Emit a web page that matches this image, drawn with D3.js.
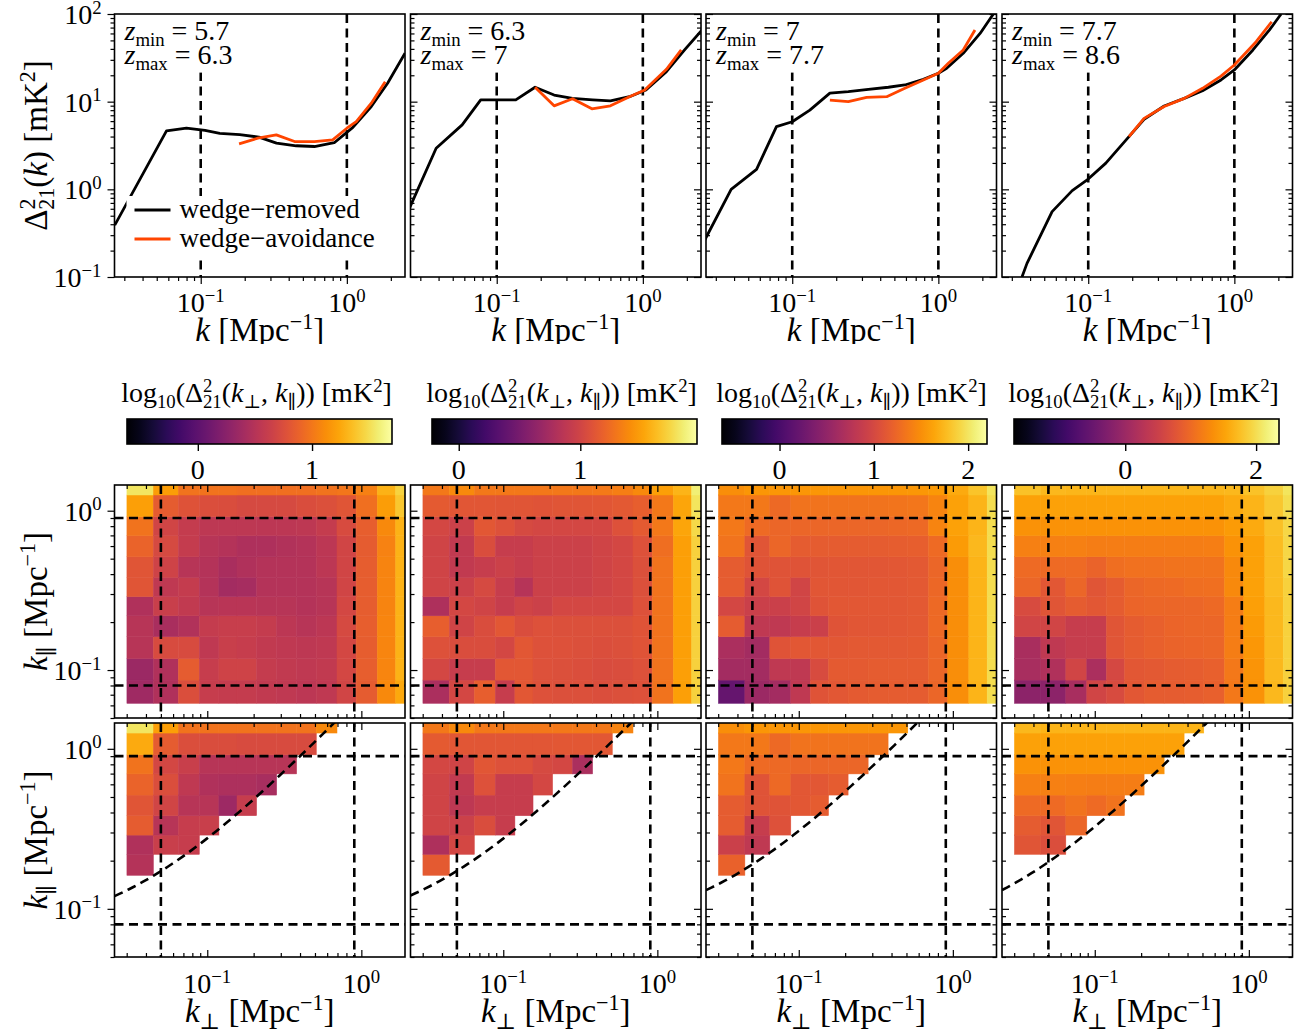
<!DOCTYPE html>
<html>
<head>
<meta charset="utf-8">
<script src="https://cdn.jsdelivr.net/npm/d3@7"></script>
<style>
  body { margin: 0; background: #fff; }
  svg { font-family: "Liberation Serif", "DejaVu Serif", serif; }
  text { white-space: pre; }
</style>
</head>
<body>
<svg id="chart" width="1303" height="1035"></svg>
<script>
// redshift bins, one per column
const zMin = ["5.7", "6.3", "7", "7.7"]
const zMax = ["6.3", "7", "7.7", "8.6"]

// spherically averaged power spectra, k in Mpc^-1, Delta^2 in mK^2
const removedK = [
  [0.0258, 0.0583, 0.0798, 0.107, 0.135, 0.185, 0.25, 0.33, 0.45, 0.6, 0.82, 1.1, 1.47, 1.9, 2.5],
  [0.0253, 0.0385, 0.058, 0.0777, 0.135, 0.183, 0.247, 0.33, 0.453, 0.6, 0.81, 1.05, 1.45, 1.93, 2.6],
  [0.0249, 0.0382, 0.057, 0.078, 0.1, 0.132, 0.181, 0.242, 0.332, 0.455, 0.59, 0.79, 1.0, 1.14, 1.48, 1.93, 2.38],
  [0.0352, 0.0381, 0.0566, 0.0777, 0.1, 0.132, 0.19, 0.241, 0.331, 0.454, 0.606, 0.81, 1.0, 1.34, 1.74, 2.09]
]
const removedP = [
  [0.39, 4.64, 4.98, 4.7, 4.36, 4.2, 3.94, 3.37, 3.14, 3.08, 3.4, 5.1, 8.8, 16.2, 35.6],
  [0.61, 2.94, 5.43, 10.5, 10.5, 14.6, 11.9, 10.9, 10.5, 10.2, 11.4, 13.6, 22, 38.9, 68.7],
  [0.254, 1.0, 1.69, 5.19, 5.9, 8.0, 12.5, 13.0, 13.8, 14.6, 15.5, 18, 21.1, 24, 35.6, 60, 100],
  [0.1, 0.143, 0.557, 0.966, 1.31, 1.99, 3.99, 6.3, 8.93, 10.9, 13.3, 17.7, 23, 38.9, 65.8, 100]
]
const avoidK = [
  [0.183, 0.246, 0.329, 0.439, 0.6, 0.8, 1.0, 1.16, 1.47, 1.83],
  [0.183, 0.247, 0.33, 0.448, 0.6, 0.81, 1.03, 1.45, 1.83],
  [0.181, 0.242, 0.323, 0.443, 0.59, 0.79, 1.0, 1.17, 1.48, 1.78],
  [0.19, 0.241, 0.331, 0.454, 0.606, 0.81, 1.0, 1.41, 1.8]
]
const avoidP = [
  [3.3, 3.83, 4.18, 3.51, 3.51, 3.66, 4.98, 5.93, 9.6, 16.9],
  [14.6, 8.96, 10.8, 8.28, 8.96, 11.4, 13.6, 23.4, 38.9],
  [10.4, 10.0, 11.2, 11.4, 14.2, 17.7, 21.1, 27.4, 38.9, 65.8],
  [3.99, 6.45, 8.8, 10.9, 14.2, 19.6, 26.2, 48.3, 81.6]
]

// cylindrical bins (edges), shared by all columns
const kPerpEdges = [0.0301, 0.0447, 0.0649, 0.0888, 0.119, 0.156, 0.209, 0.282, 0.38, 0.51, 0.695, 0.927, 1.27, 1.67, 2.3]
const kParEdges = [0.0618, 0.0865, 0.118, 0.162, 0.219, 0.289, 0.382, 0.514, 0.697, 0.917, 1.255, 1.69]

// log10 Delta^2(kperp, kpar), rows go from lowest kpar upwards
const cylRemoved1 = [
  [0.37, 0.47, 0.75, 0.61, 0.6, 0.6, 0.58, 0.56, 0.54, 0.56, 0.68, 0.84, 1.10, 1.25],
  [0.35, 0.47, 0.84, 0.61, 0.66, 0.66, 0.6, 0.58, 0.56, 0.58, 0.7, 0.86, 1.08, 1.3],
  [0.52, 0.73, 0.73, 0.56, 0.63, 0.61, 0.58, 0.56, 0.55, 0.56, 0.7, 0.85, 1.08, 1.3],
  [0.52, 0.44, 0.48, 0.6, 0.62, 0.62, 0.6, 0.54, 0.52, 0.54, 0.72, 0.86, 1.08, 1.3],
  [0.47, 0.63, 0.58, 0.52, 0.53, 0.53, 0.52, 0.52, 0.5, 0.52, 0.7, 0.85, 1.07, 1.3],
  [0.8, 0.56, 0.6, 0.5, 0.4, 0.42, 0.5, 0.5, 0.5, 0.52, 0.68, 0.85, 1.07, 1.3],
  [0.8, 0.66, 0.52, 0.5, 0.44, 0.47, 0.5, 0.5, 0.5, 0.54, 0.68, 0.85, 1.07, 1.3],
  [0.89, 0.72, 0.6, 0.52, 0.5, 0.46, 0.46, 0.48, 0.5, 0.54, 0.68, 0.84, 1.06, 1.3],
  [0.98, 0.68, 0.6, 0.55, 0.55, 0.55, 0.54, 0.54, 0.55, 0.6, 0.73, 0.86, 1.1, 1.3],
  [1.21, 0.84, 0.78, 0.75, 0.74, 0.72, 0.72, 0.72, 0.74, 0.76, 0.8, 0.96, 1.2, 1.4],
  [1.54, 1.2, 0.98, 0.98, 0.98, 0.96, 0.96, 0.96, 0.96, 0.98, 1.0, 1.05, 1.3, 1.45]
]
const cylRemoved2 = [
  [0.78, 1.02, 1.17, 0.93, 1.13, 1.09, 1.08, 1.08, 1.07, 1.08, 1.09, 1.28, 1.5, 1.72],
  [1.02, 0.93, 0.93, 1.13, 1.13, 1.09, 1.08, 1.07, 1.05, 1.06, 1.09, 1.28, 1.5, 1.72],
  [1.09, 1.06, 1.06, 1.02, 1.13, 1.09, 1.09, 1.08, 1.07, 1.08, 1.1, 1.28, 1.5, 1.72],
  [1.17, 0.99, 1.06, 1.13, 1.06, 1.09, 1.08, 1.08, 1.08, 1.08, 1.1, 1.28, 1.5, 1.72],
  [0.8, 1.02, 0.99, 0.93, 0.99, 0.97, 1.02, 1.02, 1.02, 1.02, 1.09, 1.28, 1.5, 1.72],
  [0.99, 0.97, 1.04, 0.93, 0.84, 0.97, 0.97, 0.97, 0.99, 1.02, 1.08, 1.28, 1.5, 1.72],
  [0.99, 0.91, 0.93, 0.97, 0.93, 0.97, 0.97, 0.97, 0.99, 1.02, 1.08, 1.28, 1.5, 1.72],
  [0.99, 0.91, 1.06, 0.93, 0.93, 0.97, 0.97, 0.97, 0.99, 1.02, 1.09, 1.26, 1.5, 1.72],
  [1.02, 0.97, 1.13, 1.09, 1.04, 1.02, 1.02, 1.02, 1.02, 1.09, 1.15, 1.31, 1.52, 1.75],
  [1.15, 1.12, 1.12, 1.11, 1.11, 1.1, 1.11, 1.11, 1.12, 1.14, 1.17, 1.31, 1.52, 1.8],
  [1.31, 1.39, 1.31, 1.31, 1.31, 1.31, 1.31, 1.31, 1.32, 1.34, 1.39, 1.5, 1.59, 1.85]
]
const cylRemoved3 = [
  [0.2, 0.57, 0.63, 0.82, 1.1, 1.13, 1.15, 1.16, 1.16, 1.16, 1.24, 1.5, 1.72, 1.95],
  [0.63, 0.63, 0.82, 0.82, 1.02, 1.15, 1.15, 1.16, 1.16, 1.16, 1.24, 1.5, 1.72, 1.95],
  [0.68, 0.63, 1.1, 1.13, 1.13, 1.13, 1.14, 1.14, 1.14, 1.15, 1.24, 1.5, 1.72, 1.95],
  [1.16, 0.82, 0.82, 0.88, 0.91, 1.1, 1.12, 1.12, 1.13, 1.14, 1.26, 1.5, 1.72, 1.95],
  [0.99, 0.91, 0.91, 0.96, 1.1, 1.13, 1.13, 1.13, 1.13, 1.14, 1.26, 1.5, 1.72, 1.95],
  [1.16, 0.99, 1.1, 0.96, 1.12, 1.12, 1.12, 1.13, 1.13, 1.14, 1.25, 1.5, 1.72, 1.95],
  [1.16, 1.1, 1.1, 1.1, 1.11, 1.12, 1.12, 1.12, 1.13, 1.14, 1.24, 1.5, 1.72, 1.95],
  [1.33, 1.11, 1.24, 1.16, 1.16, 1.16, 1.16, 1.16, 1.17, 1.18, 1.27, 1.58, 1.74, 1.95],
  [1.36, 1.27, 1.24, 1.24, 1.24, 1.24, 1.24, 1.24, 1.25, 1.26, 1.44, 1.61, 1.72, 1.95],
  [1.36, 1.36, 1.26, 1.33, 1.33, 1.33, 1.33, 1.33, 1.34, 1.35, 1.44, 1.61, 1.72, 1.95],
  [1.5, 1.55, 1.55, 1.55, 1.55, 1.55, 1.55, 1.55, 1.55, 1.56, 1.57, 1.67, 1.81, 2.0]
]
const cylRemoved4 = [
  [-0.16, -0.16, 0.12, 0.57, 0.65, 0.8, 0.85, 0.85, 0.87, 0.9, 1.14, 1.38, 1.7, 1.9],
  [0.12, 0.2, 0.57, 0.16, 0.61, 0.8, 0.83, 0.85, 0.87, 0.9, 1.14, 1.4, 1.7, 1.9],
  [0.14, 0.37, 0.45, 0.45, 0.77, 0.85, 0.9, 0.93, 0.95, 0.97, 1.18, 1.42, 1.7, 1.9],
  [0.57, 0.57, 0.45, 0.45, 0.77, 0.85, 0.9, 0.95, 0.97, 0.97, 1.18, 1.45, 1.7, 1.9],
  [0.65, 0.77, 0.85, 0.81, 0.85, 0.95, 0.97, 0.97, 0.97, 0.99, 1.18, 1.48, 1.7, 1.9],
  [0.97, 0.81, 0.97, 0.77, 0.85, 0.97, 1.0, 1.02, 1.04, 1.06, 1.3, 1.5, 1.72, 1.9],
  [1.01, 1.01, 1.01, 0.93, 1.05, 1.07, 1.08, 1.09, 1.09, 1.1, 1.3, 1.5, 1.72, 1.95],
  [1.22, 1.22, 1.22, 1.18, 1.18, 1.18, 1.18, 1.18, 1.19, 1.2, 1.38, 1.5, 1.72, 1.95],
  [1.38, 1.38, 1.38, 1.38, 1.38, 1.38, 1.38, 1.38, 1.38, 1.38, 1.45, 1.58, 1.75, 1.95],
  [1.5, 1.5, 1.5, 1.5, 1.5, 1.5, 1.5, 1.5, 1.5, 1.5, 1.58, 1.66, 1.82, 2.0],
  [1.78, 1.7, 1.68, 1.68, 1.68, 1.68, 1.68, 1.68, 1.68, 1.68, 1.7, 1.78, 1.9, 2.05]
]

// wedge-avoidance maps, only the cells kept above the wedge
const cylAvoid1 = [
  [], [], [],
  [0.5],
  [0.47, 0.63, 0.61],
  [0.84, 0.52, 0.61, 0.63],
  [0.8, 0.68, 0.52, 0.52, 0.36, 0.61],
  [0.89, 0.75, 0.56, 0.47, 0.45, 0.45, 0.43],
  [0.98, 0.7, 0.63, 0.52, 0.52, 0.52, 0.52, 0.52],
  [1.26, 0.84, 0.75, 0.74, 0.74, 0.73, 0.73, 0.73, 0.73],
  [1.54, 1.21, 0.98, 0.98, 0.98, 0.98, 0.98, 0.98, 0.98, 1.1]
]
const cylAvoid2 = [
  [], [], [],
  [1.15],
  [0.8, 1.02],
  [0.99, 0.97, 1.06, 0.93],
  [0.99, 0.88, 0.93, 0.93, 0.93],
  [0.99, 0.91, 1.09, 0.93, 0.93, 1.02],
  [1.02, 0.99, 1.12, 1.09, 1.09, 1.04, 1.02, 0.78],
  [1.15, 1.12, 1.12, 1.12, 1.12, 1.12, 1.13, 1.13, 1.13],
  [1.31, 1.39, 1.31, 1.31, 1.31, 1.31, 1.31, 1.31, 1.31, 1.37]
]
const cylAvoid3 = [
  [], [], [],
  [1.21],
  [0.91, 0.82],
  [1.16, 0.88, 1.07],
  [1.16, 1.1, 1.1, 1.13, 1.16],
  [1.33, 1.1, 1.26, 1.13, 1.13, 1.16],
  [1.36, 1.27, 1.26, 1.24, 1.24, 1.24, 1.24],
  [1.36, 1.36, 1.26, 1.33, 1.33, 1.33, 1.33, 1.33],
  [1.5, 1.55, 1.55, 1.55, 1.55, 1.55, 1.55, 1.55, 1.55]
]
const cylAvoid4 = [
  [], [], [], [],
  [0.77, 0.69],
  [0.85, 0.77, 0.97],
  [1.01, 1.01, 1.09, 1.01, 1.09],
  [1.22, 1.22, 1.2, 1.18, 1.18, 1.18],
  [1.38, 1.38, 1.38, 1.38, 1.38, 1.38, 1.38],
  [1.5, 1.5, 1.5, 1.5, 1.5, 1.5, 1.5, 1.5],
  [1.7, 1.66, 1.66, 1.66, 1.66, 1.66, 1.66, 1.66, 1.66]
]

// colour limits and colorbar ticks per column
const cbarDomain = [[-0.62, 1.70], [-0.22, 1.96], [-0.61, 2.20], [-1.70, 2.35]]
const cbarTicks = [[0, 1], [0, 1], [0, 1, 2], [0, 2]]

// wedge line kpar = slope * kperp + buffer
const wedgeSlope = [2.08, 2.05, 2.35, 2.6]
const wedgeBuffer = [0.068, 0.07, 0.072, 0.066]

// k cuts shown as dashed lines
const kCuts = [0.1, 1.0]
const kPerpCuts = [0.05, 0.9]
const kParCuts = [0.08, 0.9]

const cylRemoved = [cylRemoved1, cylRemoved2, cylRemoved3, cylRemoved4]
const cylAvoid = [cylAvoid1, cylAvoid2, cylAvoid3, cylAvoid4]

// ---- layout
const svg = d3.select("#chart")
const colX = [114.5, 410.5, 706, 1002]
const colW = 290.5
const specY = [14, 277]
const cylY = [485, 718]
const avoidY = [723, 957]
const cbarX = [127, 432, 722, 1014]
const cbarW = 265
const cbarY = [419, 444]
const ORANGE = "#ff4500"
const DASH = "9,5.5"
const tickFont = 28, labelFont = 33

// text with sub/superscripts; parts are strings or [str, flags]
// flags: i italic, ^ sup, _ sub, b step back over previous sup
function rich(sel, parts, size) {
  const t = sel.append("text").attr("font-size", size).attr("fill", "#000")
  let cur = 0
  parts.forEach(p => {
    const [str, st] = typeof p === "string" ? [p, ""] : p
    const lift = st.includes("^") ? -0.37 * size : st.includes("_") ? 0.2 * size : 0
    const ts = t.append("tspan").text(str)
      .attr("dy", lift - cur)
      .attr("font-size", lift ? size * 0.67 : size)
    if (st.includes("i")) ts.attr("font-style", "italic")
    if (st.includes("b")) ts.attr("dx", -0.34 * size)
    cur = lift
  })
  return t
}

const pow10 = v => {
  const e = Math.round(Math.log10(v))
  return ["10", [(e < 0 ? "\u2212" : "") + Math.abs(e), "^"]]
}

function splitTicks(scale) {
  const all = scale.ticks()
  const major = all.filter(v => Math.abs(Math.log10(v) - Math.round(Math.log10(v))) < 1e-6)
  const minor = all.filter(v => !major.includes(v))
  return [major, minor]
}

function ticks(g, axisGen, scale, tr, dir) {
  const [major, minor] = splitTicks(scale)
  ;[[major, 7], [minor, 4]].forEach(([vals, len]) => {
    const a = g.append("g").attr("transform", tr)
      .call(axisGen(scale).tickValues(vals).tickSize(len * dir).tickFormat(""))
    a.select(".domain").remove()
    a.selectAll(".tick line").attr("stroke", "#000").attr("stroke-width", 1.2)
  })
}

function frame(g, x0, y0, y1) {
  g.append("rect").attr("x", x0).attr("y", y0).attr("width", colW).attr("height", y1 - y0)
    .attr("fill", "none").attr("stroke", "#000").attr("stroke-width", 1.6)
}

const kLabel = (sub) => sub
  ? [["k", "i"], ["\u22a5", "_"], " [Mpc", ["\u22121", "^"], "]"]
  : [["k", "i"], " [Mpc", ["\u22121", "^"], "]"]

const defs = svg.append("defs")
let clipId = 0
function clip(x0, y0, w, h) {
  const id = "clip" + (clipId++)
  defs.append("clipPath").attr("id", id).append("rect")
    .attr("x", x0).attr("y", y0).attr("width", w).attr("height", h)
  return `url(#${id})`
}

// ---- top row: spherical power spectra
const specRow = svg.append("g").attr("clip-path", clip(0, 0, 1303, 344))

colX.forEach((x0, i) => {
  const x = d3.scaleLog().domain([0.0257, 2.5]).range([x0, x0 + colW])
  const y = d3.scaleLog().domain([0.1, 100]).range([specY[1], specY[0]])
  const g = specRow.append("g")
  const inner = g.append("g").attr("clip-path", clip(x0, specY[0], colW, specY[1] - specY[0]))

  inner.selectAll("line.cut").data(kCuts).join("line")
    .attr("x1", d => x(d)).attr("x2", d => x(d))
    .attr("y1", specY[0]).attr("y2", specY[1])
    .attr("stroke", "#000").attr("stroke-width", 2.6).attr("stroke-dasharray", DASH)

  const line = d3.line().x(d => x(d[0])).y(d => y(d[1]))
  inner.append("path").datum(d3.zip(removedK[i], removedP[i]))
    .attr("d", line).attr("fill", "none").attr("stroke", "#000")
    .attr("stroke-width", 2.8).attr("stroke-linejoin", "round")
  inner.append("path").datum(d3.zip(avoidK[i], avoidP[i]))
    .attr("d", line).attr("fill", "none").attr("stroke", ORANGE)
    .attr("stroke-width", 2.8).attr("stroke-linejoin", "round")

  // redshift box
  const box = inner.append("g")
  const bg = box.append("rect").attr("fill", "#fff")
  rich(box, [["z", "i"], ["min", "_"], " = " + zMin[i]], 28)
    .attr("x", x0 + 10).attr("y", specY[0] + 26)
  rich(box, [["z", "i"], ["max", "_"], " = " + zMax[i]], 28)
    .attr("x", x0 + 10).attr("y", specY[0] + 50)
  const bb = box.node().getBBox()
  bg.attr("x", bb.x - 3).attr("y", bb.y - 2).attr("width", bb.width + 6).attr("height", bb.height + 1)

  if (i === 0) {
    const leg = inner.append("g")
    leg.append("rect").attr("x", x0 + 12).attr("y", 196).attr("width", 246).attr("height", 62).attr("fill", "#fff")
    ;[["wedge\u2212removed", "#000", 210], ["wedge\u2212avoidance", ORANGE, 239]].forEach(([name, c, ly]) => {
      leg.append("line").attr("x1", x0 + 20).attr("x2", x0 + 56).attr("y1", ly).attr("y2", ly)
        .attr("stroke", c).attr("stroke-width", 2.8)
      leg.append("text").attr("x", x0 + 65).attr("y", ly + 8).attr("font-size", 27).text(name)
    })
  }

  frame(g, x0, specY[0], specY[1])
  ticks(g, d3.axisBottom, x, `translate(0,${specY[1]})`, 1)
  ticks(g, d3.axisLeft, y, `translate(${x0},0)`, i === 0 ? 1 : -1)
  if (i > 0) ticks(g, d3.axisRight, y, `translate(${x0 + colW},0)`, -1)

  splitTicks(x)[0].forEach(v => {
    rich(g, pow10(v), tickFont).attr("x", x(v)).attr("y", 312).attr("text-anchor", "middle")
  })
  if (i === 0) {
    splitTicks(y)[0].forEach(v => {
      rich(g, pow10(v), tickFont).attr("x", x0 - 13).attr("y", y(v) + 10).attr("text-anchor", "end")
    })
    const yl = g.append("g").attr("transform", `translate(47,${(specY[0] + specY[1]) / 2}) rotate(-90)`)
    rich(yl, ["\u0394", ["2", "^"], ["21", "_b"], "(", ["k", "i"], ") [mK", ["2", "^"], "]"], labelFont)
      .attr("text-anchor", "middle")
  }
  rich(g, kLabel(false), labelFont).attr("x", x0 + colW / 2).attr("y", 341).attr("text-anchor", "middle")
})

// ---- colorbars
colX.forEach((x0, i) => {
  const grad = defs.append("linearGradient").attr("id", "inferno" + i)
  d3.range(0, 1.0001, 0.05).forEach(t => {
    grad.append("stop").attr("offset", t).attr("stop-color", d3.interpolateInferno(t))
  })
  const cx = d3.scaleLinear().domain(cbarDomain[i]).range([cbarX[i], cbarX[i] + cbarW])
  const g = svg.append("g")
  g.append("rect").attr("x", cbarX[i]).attr("y", cbarY[0]).attr("width", cbarW)
    .attr("height", cbarY[1] - cbarY[0]).attr("fill", `url(#inferno${i})`)
    .attr("stroke", "#000").attr("stroke-width", 1.6)
  const a = g.append("g").attr("transform", `translate(0,${cbarY[1]})`)
    .call(d3.axisBottom(cx).tickValues(cbarTicks[i]).tickSize(7).tickFormat(""))
  a.select(".domain").remove()
  a.selectAll(".tick line").attr("stroke", "#000").attr("stroke-width", 1.4)
  cbarTicks[i].forEach(v => {
    g.append("text").attr("x", cx(v)).attr("y", 479).attr("font-size", tickFont)
      .attr("text-anchor", "middle").text(v)
  })
  rich(g, ["log", ["10", "_"], "(\u0394", ["2", "^"], ["21", "_b"], "(", ["k", "i"], ["\u22a5", "_"],
    ", ", ["k", "i"], ["\u2225", "_"], ")) [mK", ["2", "^"], "]"], 28)
    .attr("x", cbarX[i] + cbarW / 2 - 3).attr("y", 402).attr("text-anchor", "middle")
})

// ---- cylindrical maps
function cylPanel(i, grid, yr, avoid) {
  const x0 = colX[i]
  const x = d3.scaleLog().domain([0.025, 1.92]).range([x0, x0 + colW])
  const y = d3.scaleLog().domain([0.05, 1.45]).range([yr[1], yr[0]])
  const color = d3.scaleSequential(d3.interpolateInferno).domain(cbarDomain[i])
  const g = svg.append("g")
  const inner = g.append("g").attr("clip-path", clip(x0, yr[0], colW, yr[1] - yr[0]))

  const cells = []
  grid.forEach((row, r) => row.forEach((v, c) => cells.push({ r, c, v })))
  inner.selectAll("rect.cell").data(cells).join("rect")
    .attr("x", d => x(kPerpEdges[d.c]))
    .attr("width", d => x(kPerpEdges[d.c + 1]) - x(kPerpEdges[d.c]))
    .attr("y", d => y(kParEdges[d.r + 1]))
    .attr("height", d => y(kParEdges[d.r]) - y(kParEdges[d.r + 1]))
    .attr("fill", d => color(d.v)).attr("stroke", d => color(d.v)).attr("stroke-width", 0.5)

  const dashed = s => s.attr("stroke", "#000").attr("stroke-width", 2.6)
    .attr("stroke-dasharray", DASH).attr("fill", "none")
  kPerpCuts.forEach(k => dashed(inner.append("line")
    .attr("x1", x(k)).attr("x2", x(k)).attr("y1", yr[0]).attr("y2", yr[1])))
  kParCuts.forEach(k => dashed(inner.append("line")
    .attr("x1", x0).attr("x2", x0 + colW).attr("y1", y(k)).attr("y2", y(k))))

  if (avoid) {
    const kp = d3.range(0, 61).map(j => 0.025 * Math.pow(1.92 / 0.025, j / 60))
    const wedge = d3.line().x(d => x(d)).y(d => y(wedgeSlope[i] * d + wedgeBuffer[i]))
    dashed(inner.append("path").datum(kp).attr("d", wedge))
  }

  frame(g, x0, yr[0], yr[1])
  ticks(g, d3.axisBottom, x, `translate(0,${yr[1]})`, -1)
  ticks(g, d3.axisTop, x, `translate(0,${yr[0]})`, -1)
  ticks(g, d3.axisLeft, y, `translate(${x0},0)`, i === 0 ? 1 : -1)
  if (i > 0) ticks(g, d3.axisRight, y, `translate(${x0 + colW},0)`, -1)

  if (i === 0) {
    splitTicks(y)[0].forEach(v => {
      rich(g, pow10(v), tickFont).attr("x", x0 - 13).attr("y", y(v) + 10).attr("text-anchor", "end")
    })
    const yl = g.append("g").attr("transform", `translate(47,${(yr[0] + yr[1]) / 2}) rotate(-90)`)
    rich(yl, [["k", "i"], ["\u2225", "_"], " [Mpc", ["\u22121", "^"], "]"], labelFont).attr("text-anchor", "middle")
  }
  if (avoid) {
    splitTicks(x)[0].forEach(v => {
      rich(g, pow10(v), tickFont).attr("x", x(v)).attr("y", 993).attr("text-anchor", "middle")
    })
    rich(g, kLabel(true), labelFont).attr("x", x0 + colW / 2).attr("y", 1022).attr("text-anchor", "middle")
  }
}

colX.forEach((x0, i) => {
  cylPanel(i, cylRemoved[i], cylY, false)
  cylPanel(i, cylAvoid[i], avoidY, true)
})
</script>
</body>
</html>
